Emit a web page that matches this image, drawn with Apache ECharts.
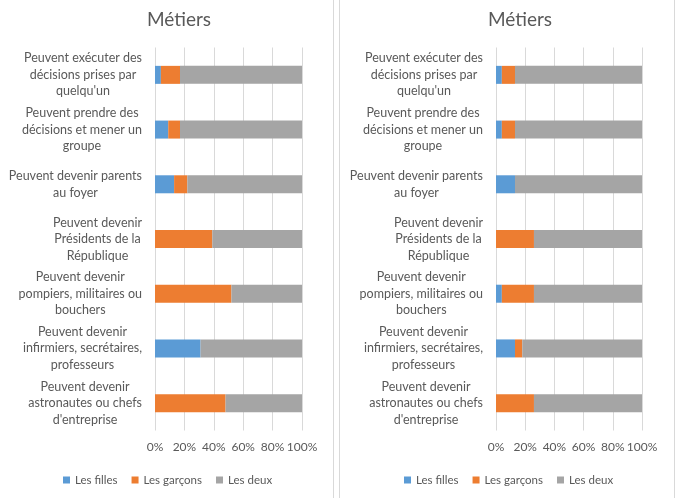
<!DOCTYPE html>
<html><head><meta charset="utf-8">
<script src="https://cdn.jsdelivr.net/npm/echarts@6/dist/echarts.min.js"></script>
<style>html,body{margin:0;padding:0;background:#fff}#c{width:678px;height:498px}</style>
</head><body><div id="c"></div>
<script>
const categories = [
  "Peuvent exécuter des\ndécisions prises par\nquelqu'un",
  "Peuvent prendre des\ndécisions et mener un\ngroupe",
  "Peuvent devenir parents\nau foyer",
  "Peuvent devenir\nPrésidents de la\nRépublique",
  "Peuvent devenir\npompiers, militaires ou\nbouchers",
  "Peuvent devenir\ninfirmiers, secrétaires,\nprofesseurs",
  "Peuvent devenir\nastronautes ou chefs\nd'entreprise"
];
const seriesNames = ["Les filles", "Les garçons", "Les deux"];
const leftFilles   = [4, 9, 13, 0, 0, 31, 0];
const leftGarcons  = [13, 8, 9, 39, 52, 0, 48];
const leftDeux     = [83, 83, 78, 61, 48, 69, 52];
const rightFilles  = [4, 4, 13, 0, 4, 13, 0];
const rightGarcons = [9, 9, 0, 26, 22, 5, 26];
const rightDeux    = [87, 87, 87, 74, 74, 82, 74];
const chartTitle = "Métiers";
const colors = ["#5B9BD5", "#ED7D31", "#A5A5A5"];
const FONT = "Lato";
const txt = "#595959";

const chart = echarts.init(document.getElementById('c'));
function xAx(gi){
  return {gridIndex: gi, type:'value', min:0, max:100, interval:20,
    axisLabel:{formatter:'{value}%', color:txt, fontFamily:FONT, fontSize:12, margin:11},
    splitLine:{lineStyle:{color:'#d9d9d9'}}, axisLine:{show:false}, axisTick:{show:false}};
}
function yAx(gi){
  return {gridIndex: gi, type:'category', data:categories, inverse:true,
    axisLine:{show:false}, axisTick:{show:false},
    axisLabel:{margin:13, color:txt, fontFamily:FONT, fontSize:12.5, lineHeight:16.5,
      formatter: v => v.split('\n').map(l => '{c|' + l + '}').join('\n'),
      rich:{c:{align:'center', color:txt, fontFamily:FONT, fontSize:12.5, lineHeight:16.5}}}};
}
function ser(name, data, i, gi){
  return {name, type:'bar', stack:'s'+gi, xAxisIndex:gi, yAxisIndex:gi, data,
    barWidth:18, itemStyle:{color:colors[i]}, emphasis:{disabled:true}};
}
function leg(left){
  return {left, top:469, itemWidth:7, itemHeight:7, itemGap:14, icon:'rect',
    data:seriesNames, textStyle:{color:txt, fontFamily:FONT, fontSize:11.5}};
}
chart.setOption({
  animation:false,
  color: colors,
  title:[
    {text:chartTitle, left:174, top:5, textAlign:'center', textStyle:{color:txt, fontFamily:FONT, fontSize:19, fontWeight:'normal'}},
    {text:chartTitle, left:515, top:5, textAlign:'center', textStyle:{color:txt, fontFamily:FONT, fontSize:19, fontWeight:'normal'}}
  ],
  legend:[leg(58), leg(399)],
  grid:[
    {left:155, width:147, top:47.5, height:383},
    {left:496, width:146, top:47.5, height:383}
  ],
  xAxis:[xAx(0), xAx(1)],
  yAxis:[yAx(0), yAx(1)],
  series:[
    ser(seriesNames[0], leftFilles, 0, 0),
    ser(seriesNames[1], leftGarcons, 1, 0),
    ser(seriesNames[2], leftDeux, 2, 0),
    ser(seriesNames[0], rightFilles, 0, 1),
    ser(seriesNames[1], rightGarcons, 1, 1),
    ser(seriesNames[2], rightDeux, 2, 1)
  ],
  graphic:[
    {type:'line', shape:{x1:333.5,y1:0,x2:333.5,y2:498}, style:{stroke:'#d9d9d9', lineWidth:1}},
    {type:'line', shape:{x1:339.5,y1:0,x2:339.5,y2:498}, style:{stroke:'#d9d9d9', lineWidth:1}},
    {type:'line', shape:{x1:674.5,y1:0,x2:674.5,y2:498}, style:{stroke:'#d9d9d9', lineWidth:1}}
  ]
});
</script></body></html>
